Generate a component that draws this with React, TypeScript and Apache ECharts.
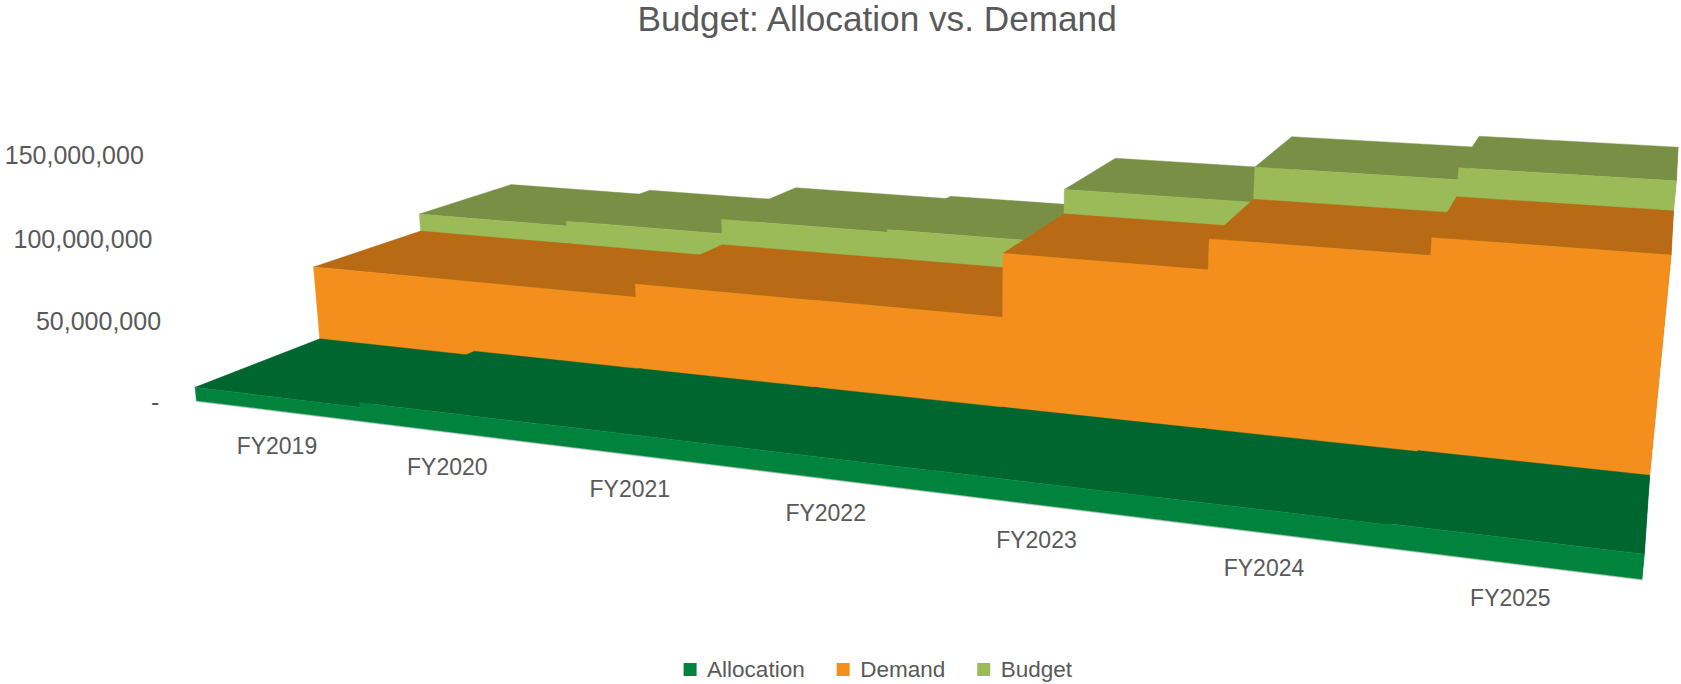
import React, { useEffect, useRef } from "react";
import * as echarts from "echarts";

const categories = ["FY2019", "FY2020", "FY2021", "FY2022", "FY2023", "FY2024", "FY2025"];
const allocation = [8400000, 11300000, 11500000, 11600000, 11700000, 11800000, 12400000];
const demand = [56700000, 56700000, 64900000, 65100000, 102400000, 119600000, 129100000];
const budget = [68900000, 72300000, 82000000, 83800000, 117700000, 139000000, 146000000];
const yTicks = [0, 50000000, 100000000, 150000000];
const yTickLabels = ["-", "50,000,000", "100,000,000", "150,000,000"];
const seriesNames = ["Allocation", "Demand", "Budget"];
const frontColors = ["#00843D", "#F48F1D", "#9BBB59"];
const topColors = ["#00662F", "#B86B14", "#798F45"];

const FONT = "Liberation Sans";
const TEXT = "#595959";
const Y_MAX = 150000000;

// Camera of the 3D view: vanishing points of the three chart axes, and the origin on the floor.
const ORIGIN = [196.4, 400.7];
const VP_X = [-4700, -204];
const VP_Y = [949, 7655];
const VP_Z = [1695, -196];
const WEIGHT_X = -0.03256;
const WEIGHT_Y = 0.0329;
const WEIGHT_Z = 0.0905;

function project(X: number, yFrac: number, Z: number) {
  const a = WEIGHT_X * X;
  const b = WEIGHT_Y * yFrac;
  const c = WEIGHT_Z * Z;
  const w = 1 + a + c - b;
  return [
    (ORIGIN[0] + a * VP_X[0] + c * VP_Z[0] - b * VP_Y[0]) / w,
    (ORIGIN[1] + a * VP_X[1] + c * VP_Z[1] - b * VP_Y[1]) / w,
  ];
}

// Reads a category index and a value through the (hidden) axes and gives model coordinates.
function readScales(api: any, index: number, value: number) {
  const band = api.size([1, 0])[0];
  const zero = api.coord([0, 0]);
  const top = api.coord([0, Y_MAX]);
  const p = api.coord([index, value]);
  const left = zero[0] - band / 2;
  return {
    x0: (p[0] - band / 2 - left) / band,
    x1: (p[0] + band / 2 - left) / band,
    xMid: (p[0] - left) / band,
    y: (zero[1] - p[1]) / (zero[1] - top[1]),
  };
}

function poly(points: number[][], color: string, lineWidth = 0.4) {
  return {
    type: "polygon",
    shape: { points },
    style: { fill: color, stroke: color, lineWidth },
    silent: true,
  };
}

function stepRenderer(values: number[], depth: number) {
  return (params: any, api: any) => {
    const i = api.value(0);
    const v = api.value(1);
    const last = i === values.length - 1;
    const { x0, x1, y } = readScales(api, i, v);
    // Each top reaches a hair under the next one, so that no seam shows between equal neighbours.
    const xEnd = last ? x1 : x1 + 0.02;
    const children: any[] = [
      poly(
        [project(x0, y, depth), project(xEnd, y, depth), project(xEnd, y, depth + 1), project(x0, y, depth + 1)],
        topColors[depth]
      ),
    ];
    if (last) {
      children.push(
        poly(
          [project(x1, 0, depth), project(x1, y, depth), project(x1, y, depth + 1), project(x1, 0, depth + 1)],
          topColors[depth]
        )
      );
      // The whole stepped front face, as one outline.
      const outline = [project(0, 0, depth), project(x1, 0, depth)];
      for (let k = values.length - 1; k >= 0; k--) {
        const s = readScales(api, k, values[k]);
        outline.push(project(s.x1, s.y, depth), project(s.x0, s.y, depth));
      }
      children.push(poly(outline, frontColors[depth]));
    }
    return { type: "group", children };
  };
}

function makeOption() {
  const stepSeries = [allocation, demand, budget].map((values, depth) => ({
    type: "custom",
    name: seriesNames[depth],
    z: 5 - depth,
    clip: false,
    silent: true,
    itemStyle: { color: frontColors[depth] },
    data: values.map((v, i) => [i, v]),
    renderItem: stepRenderer(values, depth),
  }));
  return {
    animation: false,
    backgroundColor: "#ffffff",
    title: {
      text: "Budget: Allocation vs. Demand",
      left: 632.5,
      top: -4,
      textStyle: { color: TEXT, fontFamily: FONT, fontSize: 35.2, fontWeight: "normal" },
    },
    legend: {
      data: seriesNames,
      left: 683.6,
      top: 658,
      icon: "rect",
      itemWidth: 13,
      itemHeight: 13,
      itemGap: 32,
      selectedMode: false,
      textStyle: { color: TEXT, fontFamily: FONT, fontSize: 22.5, padding: [0, 0, 0, 5.5] },
      padding: 0,
    },
    grid: { left: 200, right: 40, top: 154, bottom: 283 },
    xAxis: { type: "category", data: categories, show: false, boundaryGap: true },
    yAxis: { type: "value", min: 0, max: Y_MAX, interval: 50000000, show: false },
    series: [
      ...stepSeries,
      {
        type: "custom",
        name: "floor",
        z: 1,
        clip: false,
        silent: true,
        data: [[0, 0]],
        renderItem: (params: any, api: any) => {
          const a = project(readScales(api, 0, 0).x0, 0, 0);
          const b = project(readScales(api, categories.length - 1, 0).x1, 0, 0);
          return {
            type: "line",
            shape: { x1: a[0], y1: a[1] + 0.6, x2: b[0], y2: b[1] + 0.6 },
            style: { stroke: "#cfcfcf", lineWidth: 1.4 },
            silent: true,
          };
        },
      },
      {
        type: "custom",
        name: "category labels",
        z: 6,
        clip: false,
        silent: true,
        data: categories.map((c, i) => [i, 0]),
        renderItem: (params: any, api: any) => {
          const { xMid } = readScales(api, api.value(0), 0);
          const p = project(xMid, 0, 0);
          return {
            type: "text",
            silent: true,
            style: {
              text: categories[params.dataIndex],
              x: p[0] - 0.5,
              y: p[1] + 35,
              align: "center",
              verticalAlign: "middle",
              fill: TEXT,
              fontFamily: FONT,
              fontSize: 23,
            },
          };
        },
      },
      {
        type: "custom",
        name: "value labels",
        z: 6,
        clip: false,
        silent: true,
        data: yTicks.map((t) => [0, t]),
        renderItem: (params: any, api: any) => {
          const { x0, y } = readScales(api, 0, api.value(1));
          const p = project(x0, y, 0);
          const isZero = api.value(1) === 0;
          return {
            type: "text",
            silent: true,
            style: {
              text: yTickLabels[params.dataIndex],
              x: p[0] - (isZero ? 37 : 27),
              y: p[1] + 1,
              align: "right",
              verticalAlign: "middle",
              fill: TEXT,
              fontFamily: FONT,
              fontSize: 25,
            },
          };
        },
      },
    ],
  };
}

export default function App() {
  const ref = useRef<HTMLDivElement>(null);
  useEffect(() => {
    document.body.style.margin = "0";
    document.body.style.overflow = "hidden";
    const chart = echarts.init(ref.current as HTMLDivElement, undefined, { renderer: "svg" });
    chart.setOption(makeOption() as any);
    return () => chart.dispose();
  }, []);
  return <div ref={ref} style={{ width: 1681, height: 684 }} />;
}
